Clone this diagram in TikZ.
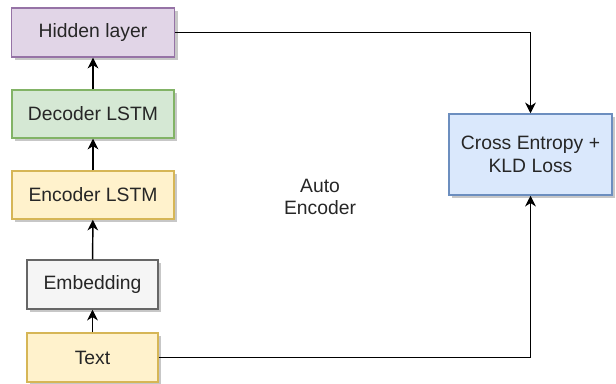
\documentclass[tikz,border=0pt]{standalone}
\usepackage{fontspec}
\setmainfont{Liberation Sans}
\usetikzlibrary{shadows,arrows.meta}
\definecolor{purpF}{HTML}{E1D5E7}\definecolor{purpD}{HTML}{9673A6}
\definecolor{grnF}{HTML}{D5E8D4}\definecolor{grnD}{HTML}{82B366}
\definecolor{yelF}{HTML}{FFF2CC}\definecolor{yelD}{HTML}{D6B656}
\definecolor{gryF}{HTML}{F5F5F5}\definecolor{gryD}{HTML}{666666}
\definecolor{bluF}{HTML}{DAE8FC}\definecolor{bluD}{HTML}{6C8EBF}
\begin{document}
\begin{tikzpicture}[x=0.75pt,y=-0.75pt,
  txtf/.style={font=\fontsize{14.5}{17}\selectfont, text=black!85},
  box/.style={draw, line width=1.1pt, inner sep=0pt, align=center, txtf,
    drop shadow={shadow xshift=2.5pt, shadow yshift=-2.5pt, fill=black!22, opacity=1}},
  conn/.style={draw, line width=1.1pt, -{Stealth[length=8pt,width=8pt,inset=2.5pt]}}]
\useasboundingbox (0,0) rectangle (616,383);
\node[box, fill=purpF, draw=purpD, minimum width=163.5*0.75pt, minimum height=49*0.75pt] (hid) at (93,32.5) {Hidden layer};
\node[box, fill=grnF, draw=grnD, minimum width=162*0.75pt, minimum height=48*0.75pt] (dec) at (93,114) {Decoder LSTM};
\node[box, fill=yelF, draw=yelD, minimum width=162*0.75pt, minimum height=48*0.75pt] (enc) at (93,195) {Encoder LSTM};
\node[box, fill=gryF, draw=gryD, minimum width=131*0.75pt, minimum height=49*0.75pt] (emb) at (92.5,284.5) {Embedding};
\node[box, fill=yelF, draw=yelD, minimum width=131*0.75pt, minimum height=49*0.75pt] (txt) at (92.5,357.5) {Text};
\node[box, fill=bluF, draw=bluD, minimum width=163*0.75pt, minimum height=81*0.75pt] (loss) at (530.5,154.5) {Cross Entropy +\\KLD Loss};
\node[align=center, txtf] (ae) at (320,197) {Auto\\Encoder};
\draw[conn] (txt) -- (emb);
\draw[conn] (emb) -- (enc);
\draw[conn] (enc) -- (dec);
\draw[conn] (dec) -- (hid);
\draw[conn] (hid.east) -| (loss.north);
\draw[conn] (txt.east) -| (loss.south);
\end{tikzpicture}
\end{document}
